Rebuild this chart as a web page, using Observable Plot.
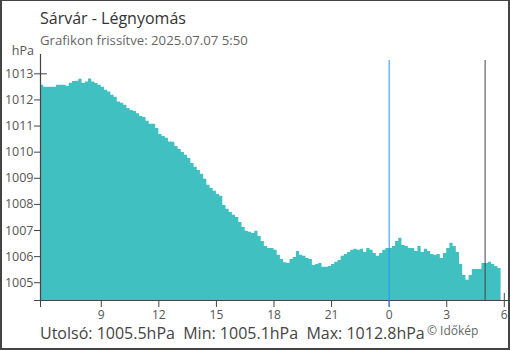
<!DOCTYPE html>
<html>
<head>
<meta charset="utf-8">
<script src="https://cdn.jsdelivr.net/npm/d3@7"></script>
<script src="https://cdn.jsdelivr.net/npm/@observablehq/plot@0.6"></script>
<style>
  html, body { margin: 0; padding: 0; background: #fff; }
  #wrap { position: relative; width: 510px; height: 350px; overflow: hidden; font-family: "Open Sans", sans-serif; }
  #wrap svg { position: absolute; left: 0; top: 0; }
  .t { position: absolute; white-space: pre; }
  #border { position: absolute; left: 0; top: 0; width: 510px; height: 350px; box-sizing: border-box;
            border: 2px solid #444; border-top-width: 1px; pointer-events: none; }
</style>
</head>
<body>
<div id="wrap"></div>
<script>
// ---- data ----
const title = "Sárvár - Légnyomás";
const subtitle = "Grafikon frissítve: 2025.07.07 5:50";
const unitLabel = "hPa";
const footer = "Utolsó: 1005.5hPa  Min: 1005.1hPa  Max: 1012.8hPa";
const credit = "© Időkép";

// series start: 5:50 previous day (hours relative to midnight), 10-minute readings
const startHour = -18 - 10 / 60;
const stepHours = 10 / 60;
const pressure = [
  1012.56, 1012.49, 1012.49, 1012.49, 1012.49, 1012.56, 1012.56, 1012.56, 1012.52, 1012.64,
  1012.71, 1012.72, 1012.79, 1012.63, 1012.69, 1012.80, 1012.69, 1012.63, 1012.56, 1012.49,
  1012.37, 1012.30, 1012.18, 1012.10, 1011.92, 1011.87, 1011.80, 1011.67, 1011.60, 1011.56,
  1011.47, 1011.37, 1011.33, 1011.18, 1011.07, 1011.07, 1010.91, 1010.68, 1010.60, 1010.53,
  1010.39, 1010.38, 1010.22, 1010.10, 1009.99, 1009.88, 1009.76, 1009.57, 1009.42, 1009.30,
  1009.15, 1008.96, 1008.73, 1008.61, 1008.50, 1008.38, 1008.31, 1007.96, 1007.81, 1007.69,
  1007.58, 1007.50, 1007.31, 1007.12, 1006.97, 1006.93, 1006.89, 1006.97, 1006.77, 1006.58,
  1006.39, 1006.31, 1006.31, 1006.24, 1006.05, 1005.89, 1005.77, 1005.74, 1005.89, 1005.97,
  1006.20, 1006.05, 1006.01, 1005.93, 1005.89, 1005.66, 1005.70, 1005.74, 1005.59, 1005.59,
  1005.62, 1005.70, 1005.78, 1005.85, 1006.01, 1006.08, 1006.16, 1006.24, 1006.28, 1006.24,
  1006.28, 1006.16, 1006.31, 1006.24, 1006.12, 1006.01, 1006.12, 1006.24, 1006.31, 1006.31,
  1006.39, 1006.58, 1006.70, 1006.43, 1006.39, 1006.31, 1006.31, 1006.20, 1006.39, 1006.16,
  1006.28, 1006.20, 1006.08, 1006.05, 1006.08, 1005.93, 1006.12, 1006.31, 1006.51, 1006.39,
  1006.16, 1005.70, 1005.28, 1005.10, 1005.28, 1005.51, 1005.51, 1005.51, 1005.74, 1005.74,
  1005.78, 1005.70, 1005.62, 1005.55, 1005.50
];
const xTicks = [startHour, -15, -12, -9, -6, -3, 0, 3, 6];
const yTicks = [1005, 1006, 1007, 1008, 1009, 1010, 1011, 1012, 1013];
const xDomain = [startHour, 6 + 10 / 60];
const yDomain = [1004.32, 1013.51];
const midnight = [0];
const marker = [5];

const data = pressure.map((v, i) => ({t: startHour + i * stepHours, v}));
const fmtHour = h => h === startHour ? "" : String(((Math.round(h) % 24) + 24) % 24);

const fill = "#41c0c2";
const axisColor = "#444";
const textColor = "#555";
const blue = "#2196f3";

const chart = Plot.plot({
  width: 510,
  height: 350,
  marginTop: 60,
  marginLeft: 40,
  marginRight: 3,
  marginBottom: 50,
  style: {fontFamily: "Open Sans, sans-serif", fontSize: "12px", background: "transparent", overflow: "visible"},
  x: {type: "linear", domain: xDomain},
  y: {type: "linear", domain: yDomain},
  marks: [
    // tick stubs inside plot (hidden behind area where covered)
    Plot.ruleY(yTicks, {x1: xDomain[0], x2: xDomain[0] + 0.36, stroke: axisColor}),
    Plot.ruleX(xTicks, {y1: yDomain[0], y2: yDomain[0] + 0.27, stroke: axisColor}),
    Plot.areaY(data, {x: "t", y1: () => yDomain[0], y2: "v", curve: "step-after", fill: fill}),
    Plot.axisY({ticks: yTicks, tickSize: 6, tickPadding: 1, stroke: axisColor, fill: textColor, fontSize: 12.5, label: null, tickFormat: d => String(d)}),
    Plot.axisX({ticks: xTicks, tickSize: 7, tickPadding: 3, stroke: axisColor, fill: textColor, fontSize: 12, label: null, tickFormat: fmtHour}),
    // axis lines
    Plot.ruleX([xDomain[0]], {y1: yDomain[0], y2: 1013.74, stroke: axisColor, strokeWidth: 1.2}),
    Plot.ruleY([yDomain[0]], {x1: xDomain[0] - 0.31, x2: 6.25, stroke: axisColor, strokeWidth: 1.2}),
    // markers
    Plot.ruleX(midnight, {y1: yDomain[0] - 0.27, y2: yDomain[1], stroke: blue, strokeWidth: 1}),
    Plot.ruleX(marker, {y1: yDomain[0], y2: yDomain[1], stroke: axisColor, strokeWidth: 1})
  ]
});

const wrap = document.getElementById("wrap");
wrap.appendChild(chart);

function addText(txt, css) {
  const d = document.createElement("div");
  d.className = "t";
  d.textContent = txt;
  Object.assign(d.style, css);
  wrap.appendChild(d);
  return d;
}
addText(title, {left: "40px", top: "10px", fontSize: "16px", lineHeight: "16px", color: "#333"});
addText(subtitle, {left: "40px", top: "34px", fontSize: "13.2px", lineHeight: "13px", color: "#666"});
addText(unitLabel, {right: "476px", top: "45px", fontSize: "12.5px", lineHeight: "12px", color: textColor});
addText(footer, {left: "40px", top: "327px", fontSize: "16px", lineHeight: "12px", color: "#444"});
addText(credit, {left: "427px", top: "326px", fontSize: "12px", lineHeight: "10px", color: "#666"});
const b = document.createElement("div");
b.id = "border";
wrap.appendChild(b);
</script>
</body>
</html>
